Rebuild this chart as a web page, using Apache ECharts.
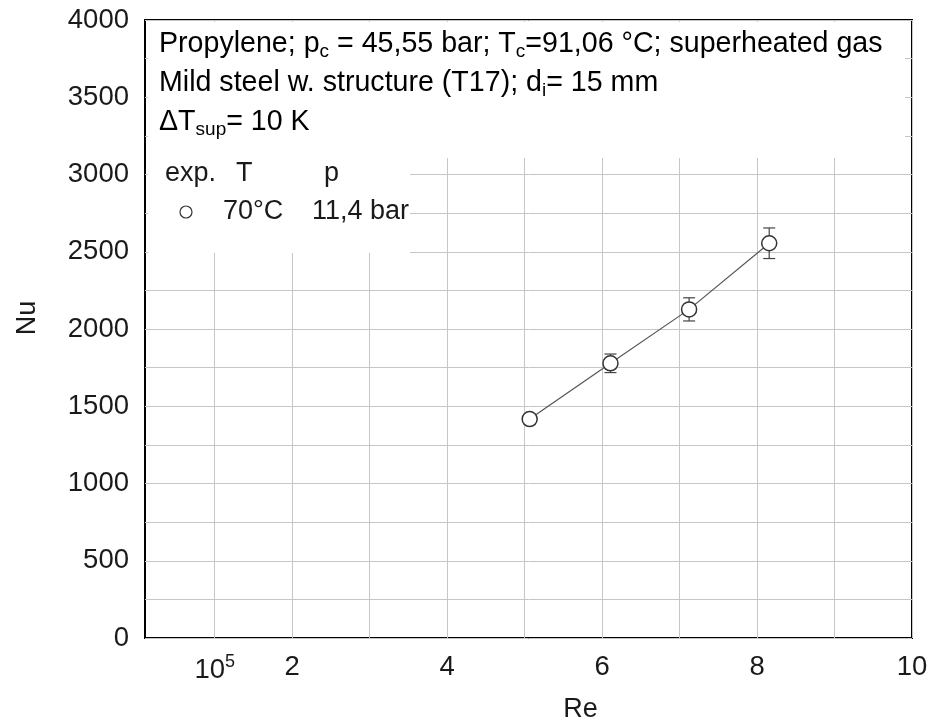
<!DOCTYPE html>
<html>
<head>
<meta charset="utf-8">
<script src="https://cdn.jsdelivr.net/npm/echarts@6/dist/echarts.min.js"></script>
<style>
  html, body { margin: 0; padding: 0; background: #fff; }
  #chart { width: 929px; height: 727px; }
</style>
</head>
<body>
<div id="chart"></div>
<script>
// Reynolds number in units of 1e5
const reValues = [5.065, 6.108, 7.123, 8.157];
// Nusselt number and its measurement uncertainty
const nuValues = [1417, 1778, 2127, 2555];
const nuErrors = [30, 60, 75, 99];
// x axis: labelled positions and grid positions
const xLabelValues = [1, 2, 4, 6, 8, 10];
const xGridValues = [1, 2, 3, 4, 5, 6, 7, 8, 9, 10];

const FONT = '"Liberation Sans", Arial, Helvetica, sans-serif';
const INK = '#1a1a1a';

const points = reValues.map((x, i) => [x, nuValues[i]]);
const errorData = reValues.map((x, i) => [x, nuValues[i] - nuErrors[i], nuValues[i] + nuErrors[i]]);

const chart = echarts.init(document.getElementById('chart'), null, { renderer: 'canvas' });

const mainStyle = { fontSize: 28.6, fontFamily: FONT, color: INK };
const subStyle = { fontSize: 19, fontFamily: FONT, color: INK, padding: [15, 0, 0, 0] };
const LEGEND_FONT = '27px ' + FONT;

chart.setOption({
  animation: false,
  backgroundColor: '#fff',
  grid: {
    left: 145, top: 20, right: 17, bottom: 89,
    outerBoundsMode: 'none',
    show: true, borderColor: '#000', borderWidth: 2
  },
  xAxis: {
    type: 'value',
    min: 0.1, max: 10,
    name: 'Re',
    nameLocation: 'middle',
    nameGap: 58,
    nameTextStyle: { fontSize: 27, fontFamily: FONT, color: INK, padding: [0, 0, 0, 104] },
    axisLine: { show: false },
    axisTick: { show: false, customValues: xGridValues },
    splitLine: { show: true, customValues: xGridValues, lineStyle: { color: '#c6c6c6', width: 1 } },
    axisLabel: {
      customValues: xLabelValues,
      margin: 15,
      fontSize: 27.5, fontFamily: FONT, color: INK,
      formatter: v => v === 1 ? '{b|10}{sup|5}' : String(v),
      rich: {
        b: { fontSize: 27.5, fontFamily: FONT, color: INK },
        sup: { fontSize: 18, fontFamily: FONT, color: INK, padding: [0, 0, 16, 0] }
      }
    }
  },
  yAxis: {
    type: 'value',
    min: 0, max: 4000, interval: 250,
    name: 'Nu',
    nameLocation: 'middle',
    nameGap: 104,
    nameRotate: 90,
    nameTextStyle: { fontSize: 27, fontFamily: FONT, color: INK, padding: [0, 0, 0, 22] },
    axisLine: { show: false },
    axisTick: { show: false },
    splitLine: { show: true, lineStyle: { color: '#c6c6c6', width: 1 } },
    axisLabel: {
      margin: 16,
      fontSize: 27.5, fontFamily: FONT, color: INK,
      formatter: v => v % 500 === 0 ? String(v) : ''
    }
  },
  graphic: [
    // description block and legend sit on white panels over the grid
    { type: 'rect', z: 10, shape: { x: 148, y: 22, width: 757, height: 136 }, style: { fill: '#fff' } },
    { type: 'rect', z: 10, shape: { x: 148, y: 157, width: 262, height: 96 }, style: { fill: '#fff' } },
    {
      type: 'text', z: 11, x: 159, y: 44,
      style: {
        text: '{t|Propylene; p}{s|c}{t| = 45,55 bar; T}{s|c}{t|=91,06 °C; superheated gas}',
        verticalAlign: 'middle',
        rich: { t: mainStyle, s: subStyle }
      }
    },
    {
      type: 'text', z: 11, x: 159, y: 83,
      style: {
        text: '{t|Mild steel w. structure (T17); d}{s|i}{t|= 15 mm}',
        verticalAlign: 'middle',
        rich: { t: mainStyle, s: subStyle }
      }
    },
    {
      type: 'text', z: 11, x: 159, y: 122,
      style: {
        text: '{t|ΔT}{s|sup}{t|= 10 K}',
        verticalAlign: 'middle',
        rich: { t: mainStyle, s: subStyle }
      }
    },
    { type: 'text', z: 11, x: 165, y: 174, style: { text: 'exp.', font: LEGEND_FONT, fill: INK, verticalAlign: 'middle' } },
    { type: 'text', z: 11, x: 236, y: 174, style: { text: 'T', font: LEGEND_FONT, fill: INK, verticalAlign: 'middle' } },
    { type: 'text', z: 11, x: 324, y: 174, style: { text: 'p', font: LEGEND_FONT, fill: INK, verticalAlign: 'middle' } },
    { type: 'circle', z: 11, shape: { cx: 186, cy: 212, r: 6 }, style: { fill: '#fff', stroke: '#333', lineWidth: 1.2 } },
    { type: 'text', z: 11, x: 223, y: 212, style: { text: '70°C', font: LEGEND_FONT, fill: INK, verticalAlign: 'middle' } },
    { type: 'text', z: 11, x: 312, y: 212, style: { text: '11,4 bar', font: LEGEND_FONT, fill: INK, verticalAlign: 'middle' } }
  ],
  series: [
    {
      type: 'custom',
      name: 'error',
      z: 3,
      data: errorData,
      encode: { x: 0, y: [1, 2] },
      renderItem: (params, api) => {
        const x = api.value(0);
        const lo = api.coord([x, api.value(1)]);
        const hi = api.coord([x, api.value(2)]);
        const cap = 6;
        const st = { stroke: '#444', lineWidth: 1.2 };
        return {
          type: 'group',
          children: [
            { type: 'line', shape: { x1: lo[0], y1: lo[1], x2: hi[0], y2: hi[1] }, style: st },
            { type: 'line', shape: { x1: lo[0] - cap, y1: lo[1], x2: lo[0] + cap, y2: lo[1] }, style: st },
            { type: 'line', shape: { x1: hi[0] - cap, y1: hi[1], x2: hi[0] + cap, y2: hi[1] }, style: st }
          ]
        };
      }
    },
    {
      type: 'line',
      name: 'exp.',
      z: 4,
      data: points,
      symbol: 'circle',
      symbolSize: 15,
      showAllSymbol: true,
      lineStyle: { color: '#555', width: 1.2 },
      itemStyle: { color: '#fff', borderColor: '#333', borderWidth: 1.5 }
    }
  ]
});
</script>
</body>
</html>
